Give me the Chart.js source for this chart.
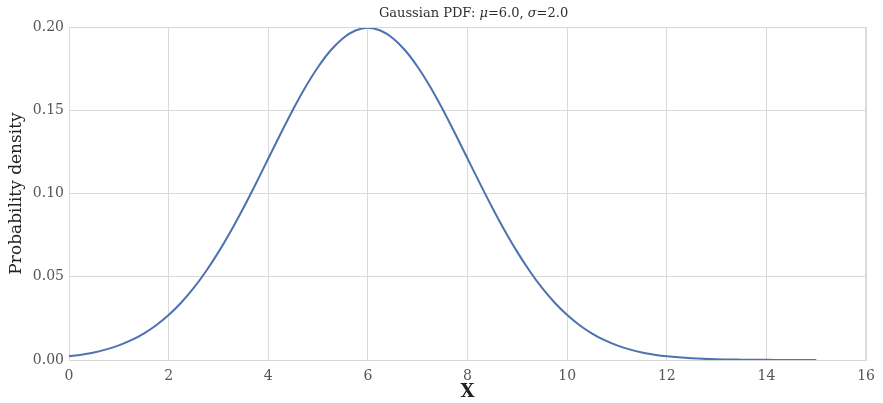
<!DOCTYPE html>
<html>
<head>
<meta charset="utf-8">
<script src="https://cdn.jsdelivr.net/npm/chart.js@4"></script>
<style>
  html, body { margin: 0; padding: 0; background: #fff; }
  #wrap { width: 883px; height: 403px; }
</style>
</head>
<body>
<div id="wrap"><canvas id="myChart"></canvas></div>
<script>
// values
const xValues = [0, 0.25, 0.5, 0.75, 1, 1.25, 1.5, 1.75, 2, 2.25, 2.5, 2.75,
  3, 3.25, 3.5, 3.75, 4, 4.25, 4.5, 4.75, 5, 5.25, 5.5, 5.75,
  6, 6.25, 6.5, 6.75, 7, 7.25, 7.5, 7.75, 8, 8.25, 8.5, 8.75,
  9, 9.25, 9.5, 9.75, 10, 10.25, 10.5, 10.75, 11, 11.25, 11.5, 11.75,
  12, 12.5, 13, 13.5, 14, 14.5, 15];
const densityValues = [0.0022, 0.0032, 0.0045, 0.0064, 0.0088, 0.0119, 0.0159, 0.0209,
  0.0270, 0.0344, 0.0431, 0.0533, 0.0648, 0.0775, 0.0913, 0.1059,
  0.1210, 0.1360, 0.1506, 0.1641, 0.1760, 0.1859, 0.1933, 0.1979,
  0.1995, 0.1979, 0.1933, 0.1859, 0.1760, 0.1641, 0.1506, 0.1360,
  0.1210, 0.1059, 0.0913, 0.0775, 0.0648, 0.0533, 0.0431, 0.0344,
  0.0270, 0.0209, 0.0159, 0.0119, 0.0088, 0.0064, 0.0045, 0.0032,
  0.0022, 0.0010, 0.0004, 0.0002, 0.0001, 0.0000, 0.0000];
const xTicks = [0, 2, 4, 6, 8, 10, 12, 14, 16];
const yTicks = [0.00, 0.05, 0.10, 0.15, 0.20];

// title pieces: [text, italic]
const titleParts = [["Gaussian PDF: ", false], ["\u03bc", true], ["=6.0, ", false],
  ["\u03c3", true], ["=2.0", false]];
const xLabel = "X";
const yLabel = "Probability density";

const serif = "'DejaVu Serif', 'Liberation Serif', serif";
const gridColor = "#d9d9d9";
const tickColor = "#555555";

const points = xValues.map((x, i) => ({ x: x, y: densityValues[i] }));

// draws the title centred over the plot, with italic mu / sigma
const titlePlugin = {
  id: "mixedTitle",
  afterDraw(chart) {
    const a = chart.chartArea;
    const c = chart.ctx;
    c.save();
    c.fillStyle = "#2e2e2e";
    c.textBaseline = "alphabetic";
    const fontFor = (it) => (it ? "italic " : "") + "13px " + serif;
    let total = 0;
    titleParts.forEach(([t, it]) => {
      c.font = fontFor(it);
      total += c.measureText(t).width;
    });
    let x = (a.left + a.right) / 2 + 6 - total / 2;
    titleParts.forEach(([t, it]) => {
      c.font = fontFor(it);
      c.fillText(t, x, 17);
      x += c.measureText(t).width;
    });
    // top and right frame lines
    c.strokeStyle = gridColor;
    c.lineWidth = 1;
    c.beginPath();
    c.moveTo(a.left, a.top + 0.5);
    c.lineTo(a.right, a.top + 0.5);
    c.moveTo(a.right - 0.5, a.top);
    c.lineTo(a.right - 0.5, a.bottom);
    c.stroke();
    c.restore();
  },
};

const ctx = document.getElementById("myChart");
new Chart(ctx, {
  type: "line",
  data: {
    datasets: [
      {
        data: points,
        borderColor: "#4c72b0",
        borderWidth: 2,
        pointRadius: 0,
        fill: false,
        cubicInterpolationMode: "monotone",
      },
    ],
  },
  options: {
    responsive: true,
    maintainAspectRatio: false,
    animation: false,
    layout: { padding: { right: 14, top: 27, bottom: 0, left: 0 } },
    plugins: {
      legend: { display: false },
      tooltip: { enabled: false },
      title: { display: false },
    },
    scales: {
      x: {
        type: "linear",
        min: 0,
        max: 16,
        afterBuildTicks: (axis) => {
          axis.ticks = xTicks.map((v) => ({ value: v }));
        },
        grid: { color: gridColor, drawTicks: false },
        border: { color: gridColor },
        ticks: {
          color: tickColor,
          font: { family: serif, size: 14 },
          padding: 8,
          maxRotation: 0,
        },
        title: {
          display: true,
          text: xLabel,
          color: "#222222",
          font: { family: serif, size: 18, weight: "bold" },
          padding: { top: 0, bottom: 0 },
        },
        afterFit: (axis) => { axis.height = 43; },
      },
      y: {
        min: 0,
        max: 0.2,
        afterBuildTicks: (axis) => {
          axis.ticks = yTicks.map((v) => ({ value: v }));
        },
        grid: { color: gridColor, drawTicks: false },
        border: { color: gridColor },
        ticks: {
          color: tickColor,
          font: { family: serif, size: 14 },
          padding: 5,
          callback: (v) => Number(v).toFixed(2),
        },
        title: {
          display: true,
          text: yLabel,
          color: "#222222",
          font: { family: serif, size: 17 },
          padding: { top: 6, bottom: 0 },
        },
        afterFit: (axis) => { axis.width = 69; },
      },
    },
  },
  plugins: [titlePlugin],
});
</script>
</body>
</html>
